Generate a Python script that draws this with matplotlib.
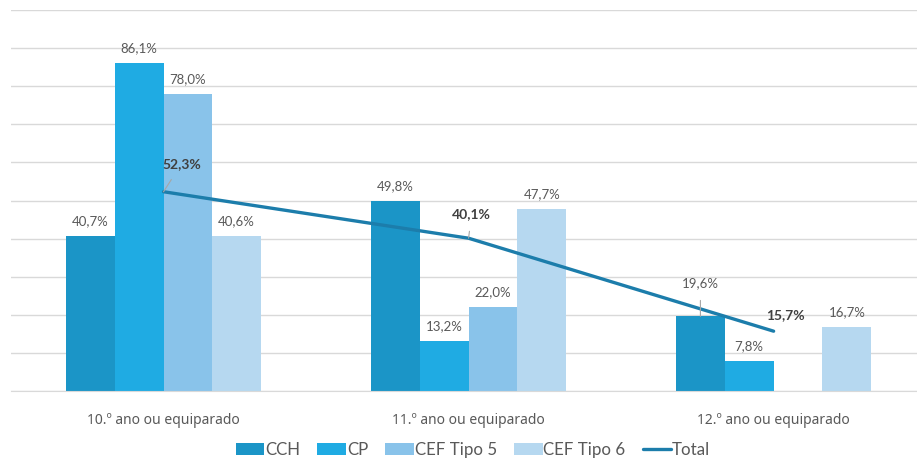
import numpy as np
import matplotlib
matplotlib.use("Agg")
import matplotlib.pyplot as plt

plt.rcParams['font.family'] = ['Lato', 'DejaVu Sans']

categories = ["10.º ano ou equiparado", "11.º ano ou equiparado", "12.º ano ou equiparado"]
series_names = ["CCH", "CP", "CEF Tipo 5", "CEF Tipo 6"]
cch = [40.7, 49.8, 19.6]
cp = [86.1, 13.2, 7.8]
cef5 = [78.0, 22.0, np.nan]
cef6 = [40.6, 47.7, 16.7]
total = [52.3, 40.1, 15.7]

colours = ["#1b95c7", "#1fabe3", "#89c3ea", "#b6d8f0"]
line_colour = "#1c7dab"

fig = plt.figure(figsize=(9.17, 4.63), dpi=100)
ax = fig.add_axes([11/917, 72/463, 906/917, 381/463])

x = np.arange(len(categories))
w = 0.16
offsets = [-1.5, -0.5, 0.5, 1.5]

for vals, name, col, off in zip([cch, cp, cef5, cef6], series_names, colours, offsets):
    vals = np.array(vals, dtype=float)
    ax.bar(x + off*w, np.nan_to_num(vals), w, color=col, label=name, zorder=2)
    for xi, v in zip(x + off*w, vals):
        if np.isnan(v):
            continue
        txt = ("%.1f%%" % v).replace(".", ",")
        if v == 19.6:
            # label pushed above the Total line, with a leader
            ax.annotate(txt, (xi, v), xytext=(0, 33), textcoords="offset pixels",
                        ha="center", va="center", fontsize=9.5, color="#595959",
                        arrowprops=dict(arrowstyle="-", color="#a6a6a6", lw=0.8,
                                        shrinkA=6, shrinkB=0), zorder=4)
        else:
            ax.annotate(txt, (xi, v), xytext=(0, 15), textcoords="offset pixels",
                        ha="center", va="center", fontsize=9.5, color="#595959", zorder=4)

ax.plot(x, total, color=line_colour, lw=2.4, label="Total", zorder=3, solid_capstyle="round")

total_offsets = [(18, 28), (3, 24), (12, 16)]
for xi, v, (dx, dy) in zip(x, total, total_offsets):
    txt = ("%.1f%%" % v).replace(".", ",")
    props = None
    if dy > 20:
        props = dict(arrowstyle="-", color="#a6a6a6", lw=0.8, shrinkA=6, shrinkB=0)
    ax.annotate(txt, (xi, v), xytext=(dx, dy), textcoords="offset pixels",
                ha="center", va="center", fontsize=10, color="#404040",
                fontweight="bold", arrowprops=props, zorder=4)

ax.set_ylim(0, 100)
ax.set_xlim(-0.5, 2.47)
ax.set_yticks(np.arange(0, 101, 10))
ax.yaxis.grid(True, color="#d9d9d9", lw=1)
ax.set_axisbelow(True)
ax.tick_params(axis="y", left=False, labelleft=False)
ax.tick_params(axis="x", bottom=False, colors="#595959", pad=12)
ax.set_xticks(x)
ax.set_xticklabels(categories, family=["Noto Sans", "DejaVu Sans"], fontsize=10)
for s in ["top", "right", "left"]:
    ax.spines[s].set_visible(False)
ax.spines["bottom"].set_color("#d9d9d9")

handles, labels = ax.get_legend_handles_labels()
order = [1, 2, 3, 4, 0]
leg = fig.legend([handles[i] for i in order], [labels[i] for i in order],
                 loc="center", bbox_to_anchor=(473/917, 13/463), ncol=5, frameon=False,
                 fontsize=12.2, handlelength=1.7, handleheight=0.7, handletextpad=0.05,
                 columnspacing=1.0, labelcolor="#595959")

fig.savefig("out.png", dpi=100)
